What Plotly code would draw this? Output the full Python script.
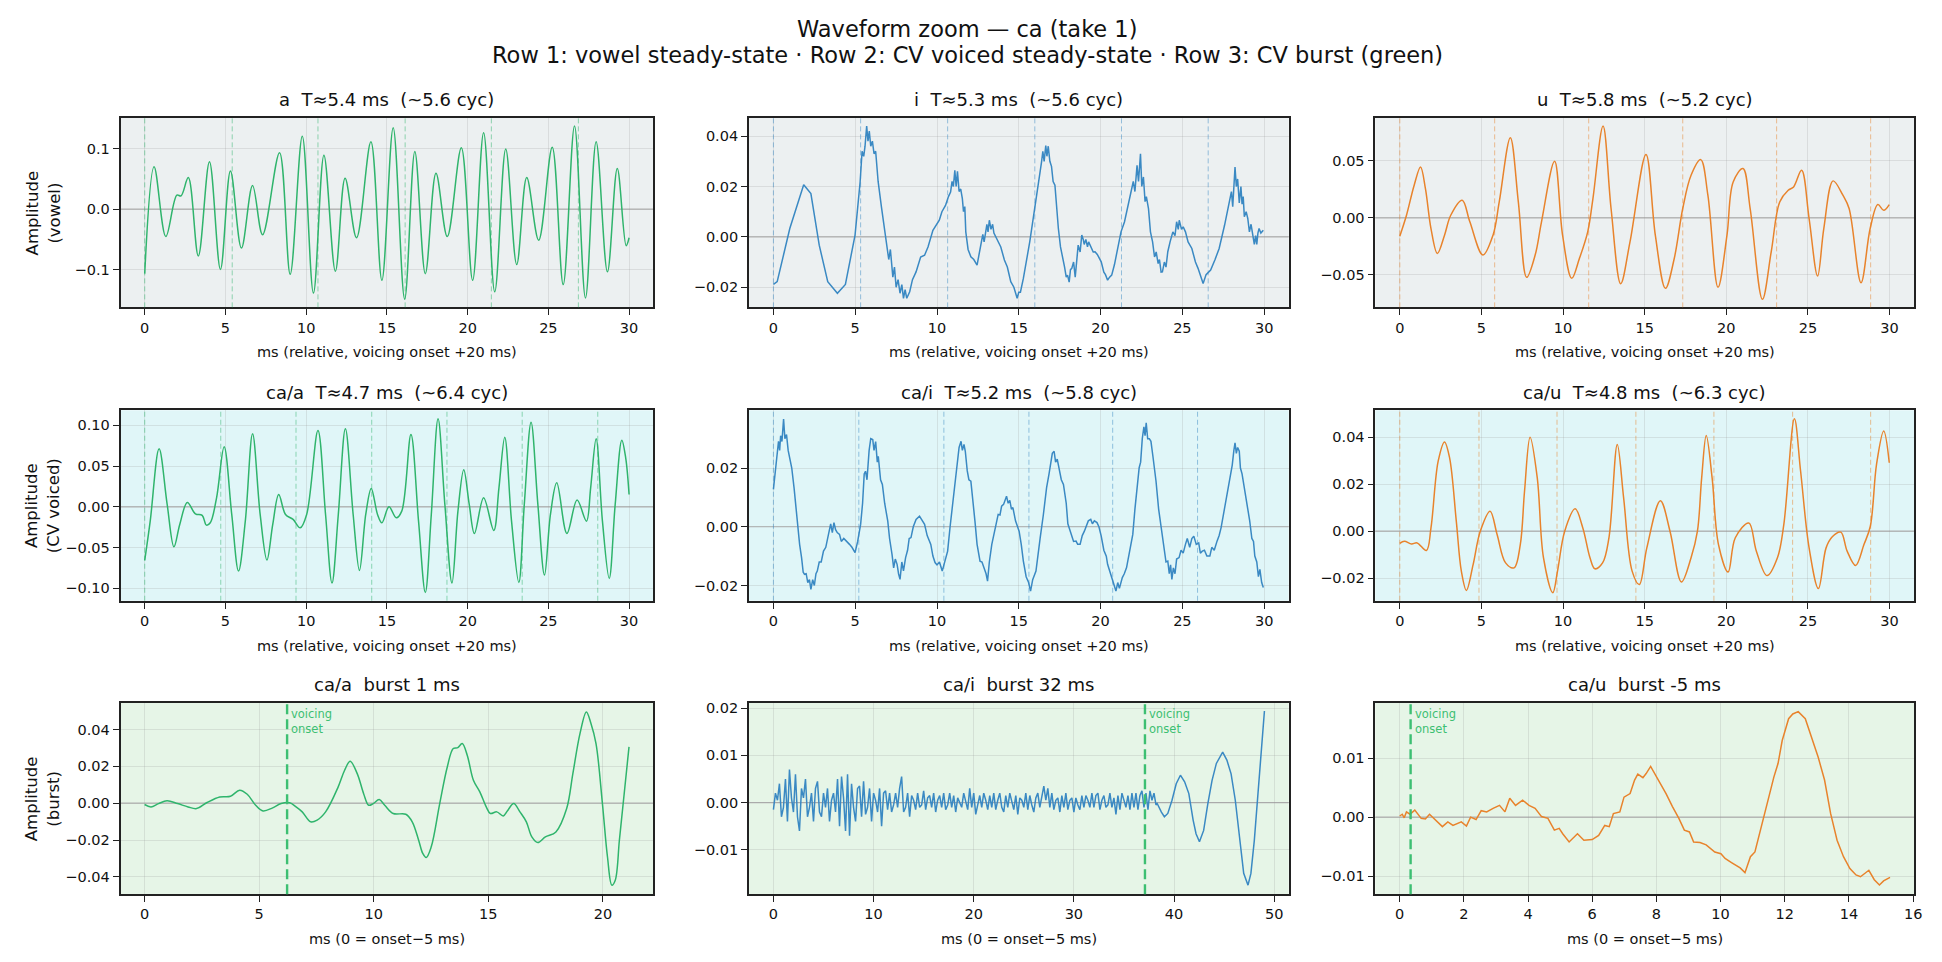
import plotly.graph_objects as go

# ---------------- data ----------------
# Row 1: vowel steady-state
a_t = [0, 0.58, 1.31, 1.99, 2.25, 2.70, 3.32, 4.01, 4.69, 5.31, 5.99, 6.68, 7.30, 8.35, 9.01, 9.76, 10.45, 11.10, 11.81, 12.41, 13.12, 14.01, 14.69, 15.39, 16.10, 16.73, 17.38, 18.04, 18.74, 19.61, 20.31, 20.99, 21.68, 22.36, 23.04, 23.66, 24.40, 25.24, 25.92, 26.62, 27.30, 27.96, 28.66, 29.27, 29.82, 30.0]
a_v = [-0.106, 0.070, -0.045, 0.023, 0.022, 0.052, -0.077, 0.078, -0.099, 0.063, -0.064, 0.039, -0.042, 0.093, -0.107, 0.120, -0.138, 0.089, -0.102, 0.051, -0.047, 0.111, -0.117, 0.134, -0.148, 0.095, -0.106, 0.059, -0.045, 0.101, -0.117, 0.126, -0.136, 0.099, -0.091, 0.052, -0.051, 0.102, -0.124, 0.137, -0.146, 0.111, -0.103, 0.067, -0.060, -0.047]
a_marks = [0, 5.42, 10.73, 16.13, 21.47, 26.86]

i_t = [
    0, 0.23, 1.0, 1.85, 2.29, 2.80, 3.32, 3.91, 4.40, 4.99,
    5.30, 5.42, 5.52, 5.60, 5.70, 5.78, 5.86, 5.95, 6.05, 6.15,
    6.25, 6.40, 6.60, 6.79, 6.95, 7.05, 7.15, 7.30, 7.40, 7.50,
    7.62, 7.74, 7.85, 7.95, 8.05, 8.15, 8.33, 8.50, 8.72, 8.85,
    9.0, 9.24, 9.45, 9.75, 9.95, 10.14, 10.30, 10.52, 10.70, 10.83,
    10.92, 11.0, 11.09, 11.17, 11.25, 11.35, 11.45, 11.55, 11.62, 11.70,
    11.76, 11.90, 12.07, 12.25, 12.45, 12.60, 12.71, 12.80, 12.88, 12.97,
    13.05, 13.12, 13.20, 13.30, 13.40, 13.48, 13.60, 13.74, 13.90, 14.12,
    14.30, 14.51, 14.70, 14.90, 15.0, 15.10, 15.28, 15.67, 16.05, 16.25,
    16.39, 16.47, 16.55, 16.65, 16.72, 16.80, 16.90, 17.0, 17.10, 17.21,
    17.30, 17.42, 17.55, 17.67, 17.80, 17.90, 17.98, 18.08, 18.16, 18.24,
    18.35, 18.45, 18.55, 18.63, 18.75, 18.85, 18.94, 19.0, 19.10, 19.20,
    19.27, 19.40, 19.55, 19.66, 19.80, 20.04, 20.20, 20.30, 20.43, 20.55,
    20.68, 20.85, 21.07, 21.25, 21.46, 21.65, 21.85, 22.0, 22.10, 22.23,
    22.32, 22.44, 22.52, 22.62, 22.72, 22.80, 22.93, 23.05, 23.18, 23.30,
    23.40, 23.52, 23.60, 23.70, 23.78, 23.90, 24.0, 24.11, 24.25, 24.42,
    24.55, 24.65, 24.75, 24.81, 24.95, 25.05, 25.19, 25.35, 25.58, 25.80,
    25.96, 26.15, 26.27, 26.45, 26.73, 27.0, 27.25, 27.58, 27.75, 27.89,
    28.0, 28.08, 28.15, 28.22, 28.30, 28.38, 28.48, 28.58, 28.65, 28.72,
    28.79, 28.90, 29.0, 29.10, 29.20, 29.30, 29.40, 29.48, 29.55, 29.62,
    29.69, 29.80, 29.95,
]
i_v = [
    -0.0189, -0.0178, 0.0033, 0.0207, 0.0172, -0.0033, -0.0178, -0.0224, -0.0189, 0.0007,
    0.0218, 0.034, 0.032, 0.036, 0.044, 0.038, 0.042, 0.036, 0.038, 0.033,
    0.034, 0.022, 0.012, 0.0033, -0.006, -0.009, -0.005, -0.016, -0.012, -0.020,
    -0.017, -0.0224, -0.019, -0.0244, -0.021, -0.0244, -0.0218, -0.017, -0.0139, -0.011,
    -0.008, -0.0073, -0.004, 0.0026, 0.0045, 0.0066, 0.010, 0.0125, 0.016, 0.0178,
    0.022, 0.020, 0.0264, 0.020, 0.026, 0.018, 0.019, 0.0152, 0.010, 0.012,
    0.002, -0.005, -0.0079, -0.009, -0.0112, -0.006, -0.0033, 0.001, -0.002, 0.002,
    0.005, 0.002, 0.0066, 0.003, 0.005, 0.0015, 0.0, -0.002, -0.004, -0.0092,
    -0.012, -0.0178, -0.020, -0.0244, -0.022, -0.022, -0.0165, -0.002, 0.0139, 0.024,
    0.0297, 0.034, 0.030, 0.0363, 0.032, 0.036, 0.030, 0.028, 0.022, 0.0205,
    0.012, 0.0033, -0.004, -0.0073, -0.012, -0.016, -0.0152, -0.018, -0.013, -0.0125,
    -0.010, -0.016, -0.008, -0.0033, -0.006, 0.0007, -0.001, -0.003, -0.001, -0.004,
    -0.002, -0.004, -0.006, -0.0059, -0.007, -0.0099, -0.014, -0.015, -0.0172, -0.016,
    -0.0152, -0.011, -0.0033, 0.002, 0.0059, 0.012, 0.0178, 0.022, 0.018, 0.0284,
    0.022, 0.033, 0.020, 0.0238, 0.014, 0.016, 0.0112, 0.002, -0.002, -0.008,
    -0.006, -0.0106, -0.009, -0.014, -0.0139, -0.010, -0.012, -0.0059, -0.002, 0.002,
    0.0005, 0.006, 0.003, 0.0066, 0.003, 0.004, 0.002, -0.002, -0.0046, -0.010,
    -0.0125, -0.016, -0.0185, -0.015, -0.0132, -0.009, -0.0046, 0.0046, 0.010, 0.0139,
    0.018, 0.012, 0.020, 0.0277, 0.020, 0.023, 0.0135, 0.020, 0.013, 0.016,
    0.008, 0.010, 0.0073, 0.002, 0.005, 0.0, -0.003, 0.0005, -0.003, 0.0015,
    0.0033, 0.0015, 0.0026,
]
i_marks = [0, 5.33, 10.65, 15.98, 21.28, 26.58]

u_t = [0, 0.41, 0.88, 1.27, 1.57, 1.91, 2.30, 2.74, 3.12, 3.82, 4.29, 5.09, 5.71, 6.09, 6.77, 7.26, 7.77, 8.29, 8.68, 9.48, 9.97, 10.53, 11.0, 11.51, 11.83, 12.45, 12.94, 13.53, 14.10, 15.08, 15.65, 16.27, 16.81, 17.33, 17.84, 18.43, 18.87, 19.49, 20.04, 20.42, 21.02, 21.46, 22.21, 22.75, 23.27, 23.79, 24.12, 24.61, 25.07, 25.59, 25.97, 26.54, 27.14, 27.52, 28.25, 28.81, 29.28, 29.64, 29.98]
u_v = [-0.0161, 0.0023, 0.0287, 0.0447, 0.0257, -0.0094, -0.0313, -0.0152, 0.0023, 0.0155, -0.0035, -0.0327, -0.0152, 0.014, 0.0705, 0.014, -0.0523, -0.0327, -0.0035, 0.0497, -0.0152, -0.0532, -0.0357, -0.0123, 0.017, 0.0807, 0.0082, -0.0579, -0.0211, 0.0558, -0.0152, -0.062, -0.0357, 0.0082, 0.0374, 0.0512, 0.0199, -0.0611, -0.0152, 0.0316, 0.0433, 0.0082, -0.0716, -0.0298, 0.014, 0.0243, 0.0272, 0.0418, -0.0006, -0.0512, -0.0094, 0.0325, 0.0199, 0.0082, -0.057, -0.0094, 0.0117, 0.0067, 0.0117]
u_marks = [0, 5.81, 11.57, 17.33, 23.08, 28.84]

# Row 2: CV voiced steady-state
ca_a_t = [0, 0.34, 0.89, 1.39, 1.81, 2.17, 2.64, 3.14, 3.56, 3.82, 4.06, 4.45, 4.92, 5.39, 5.81, 6.23, 6.68, 7.15, 7.57, 7.93, 8.30, 8.72, 9.19, 9.63, 10.03, 10.73, 11.20, 11.60, 11.99, 12.43, 12.91, 13.30, 13.69, 14.03, 14.42, 14.69, 15.13, 15.58, 15.92, 16.49, 16.96, 17.38, 17.75, 18.17, 18.59, 19.03, 19.40, 19.76, 20.10, 20.42, 20.99, 21.62, 21.94, 22.30, 22.72, 23.17, 23.51, 23.93, 24.35, 24.76, 25.13, 25.52, 26.15, 26.78, 27.36, 27.62, 27.96, 28.35, 28.77, 29.14, 29.55, 29.79, 30.0]
ca_a_v = [-0.0658, -0.0176, 0.0711, 0.0029, -0.0491, -0.0217, 0.0053, -0.0086, -0.0106, -0.0225, -0.0196, 0.011, 0.0736, -0.0094, -0.0789, -0.0176, 0.0895, -0.0094, -0.0654, -0.0217, 0.0151, -0.0094, -0.0155, -0.0258, -0.0094, 0.0936, -0.0094, -0.0936, -0.0094, 0.0957, -0.0094, -0.0781, -0.0094, 0.0225, -0.0094, -0.0196, 0.0, -0.0135, -0.0053, 0.0887, -0.0176, -0.1051, -0.0094, 0.1079, 0.0029, -0.0936, -0.0053, 0.0454, 0.0029, -0.0327, 0.011, -0.029, 0.0233, 0.0854, -0.0176, -0.0928, 0.0029, 0.1038, 0.0029, -0.0838, -0.0094, 0.0294, -0.0327, 0.0082, -0.0176, 0.0233, 0.0834, -0.0176, -0.0879, 0.0029, 0.0818, 0.0601, 0.0151]
ca_a_marks = [0, 4.71, 9.37, 14.06, 18.72, 23.38, 28.06]

ca_i_t = [
    0, 0.15, 0.25, 0.31, 0.38, 0.44, 0.52, 0.62, 0.70, 0.80,
    0.90, 1.0, 1.12, 1.26, 1.47, 1.60, 1.72, 1.82, 1.90, 2.0,
    2.10, 2.20, 2.29, 2.40, 2.50, 2.60, 2.68, 2.80, 2.92, 3.06,
    3.20, 3.30, 3.37, 3.50, 3.60, 3.70, 3.80, 3.90, 4.04, 4.15,
    4.30, 4.48, 4.65, 4.80, 4.99, 5.15, 5.33, 5.45, 5.55, 5.63,
    5.72, 5.85, 5.95, 6.07, 6.15, 6.25, 6.35, 6.41, 6.55, 6.66,
    6.80, 6.99, 7.10, 7.25, 7.35, 7.45, 7.56, 7.65, 7.74, 7.85,
    7.95, 8.08, 8.20, 8.30, 8.41, 8.55, 8.72, 8.93, 9.10, 9.24,
    9.40, 9.62, 9.75, 9.88, 10.00, 10.15, 10.32, 10.45, 10.65, 10.80,
    10.99, 11.10, 11.24, 11.35, 11.47, 11.55, 11.65, 11.73, 11.85, 11.95,
    12.07, 12.20, 12.32, 12.45, 12.55, 12.63, 12.75, 12.89, 13.0, 13.09,
    13.20, 13.35, 13.50, 13.62, 13.74, 13.85, 13.95, 14.07, 14.15, 14.25,
    14.35, 14.45, 14.55, 14.64, 14.80, 15.02, 15.15, 15.28, 15.45, 15.60,
    15.72, 15.85, 16.05, 16.20, 16.31, 16.50, 16.70, 16.85, 16.95, 17.05,
    17.16, 17.25, 17.35, 17.47, 17.60, 17.73, 17.90, 18.0, 18.11, 18.25,
    18.35, 18.50, 18.60, 18.75, 18.88, 19.01, 19.15, 19.25, 19.40, 19.50,
    19.62, 19.78, 19.90, 20.04, 20.20, 20.35, 20.43, 20.60, 20.75, 20.94,
    21.05, 21.15, 21.33, 21.45, 21.59, 21.75, 21.97, 22.10, 22.22, 22.36,
    22.45, 22.55, 22.65, 22.72, 22.79, 22.88, 22.98, 23.08, 23.20, 23.39,
    23.55, 23.77, 23.90, 24.0, 24.11, 24.20, 24.28, 24.36, 24.45, 24.55,
    24.65, 24.80, 24.92, 25.05, 25.19, 25.30, 25.45, 25.58, 25.70, 25.85,
    26.0, 26.10, 26.22, 26.35, 26.50, 26.68, 26.80, 26.95, 27.12, 27.25,
    27.37, 27.50, 27.63, 27.80, 27.90, 27.96, 28.05, 28.15, 28.22, 28.30,
    28.38, 28.48, 28.55, 28.65, 28.79, 28.95, 29.12, 29.25, 29.35, 29.43,
    29.55, 29.65, 29.74, 29.85, 29.95,
]
ca_i_v = [
    0.0127, 0.020, 0.026, 0.0291, 0.026, 0.031, 0.029, 0.0367, 0.030, 0.0314,
    0.026, 0.0235, 0.020, 0.0133, -0.0003, -0.006, -0.0105, -0.0155, -0.0162, -0.016,
    -0.019, -0.018, -0.0213, -0.018, -0.020, -0.016, -0.0151, -0.012, -0.012, -0.0083,
    -0.007, -0.004, -0.0032, 0.001, -0.002, 0.0014, -0.001, -0.002, -0.0026, -0.005,
    -0.004, -0.0049, -0.006, -0.007, -0.0088, -0.005, 0.0008, 0.008, 0.018, 0.0189,
    0.016, 0.026, 0.030, 0.0297, 0.026, 0.029, 0.022, 0.024, 0.016, 0.0144,
    0.008, 0.0019, -0.004, -0.0094, -0.014, -0.011, -0.0128, -0.016, -0.0179, -0.012,
    -0.015, -0.0105, -0.008, -0.004, -0.0037, 0.0, 0.0025, 0.0036, 0.002, 0.0008,
    -0.003, -0.006, -0.010, -0.0122, -0.013, -0.012, -0.0151, -0.012, -0.0083, 0.000,
    0.0099, 0.016, 0.0223, 0.027, 0.0291, 0.026, 0.028, 0.0257, 0.019, 0.016,
    0.0155, 0.007, 0.0019, -0.006, -0.010, -0.0117, -0.012, -0.0139, -0.016, -0.0185,
    -0.012, -0.006, -0.002, 0.002, 0.0042, 0.004, 0.007, 0.0076, 0.009, 0.0104,
    0.008, 0.009, 0.006, 0.0065, 0.002, -0.0015, -0.006, -0.0117, -0.017, -0.019,
    -0.0219, -0.018, -0.0151, -0.008, -0.0037, 0.004, 0.0133, 0.018, 0.022, 0.025,
    0.0257, 0.022, 0.023, 0.0201, 0.016, 0.0144, 0.008, 0.001, -0.0009, -0.003,
    -0.005, -0.0049, -0.006, -0.006, -0.003, -0.0015, 0.001, 0.002, 0.0025, 0.001,
    0.002, 0.0014, 0.0, -0.0032, -0.008, -0.010, -0.0128, -0.016, -0.018, -0.0219,
    -0.019, -0.021, -0.0173, -0.016, -0.0139, -0.009, -0.0026, 0.006, 0.012, 0.0201,
    0.022, 0.030, 0.034, 0.031, 0.0354, 0.030, 0.030, 0.0291, 0.024, 0.0155,
    0.006, -0.0026, -0.008, -0.012, -0.0117, -0.016, -0.013, -0.0179, -0.014, -0.016,
    -0.011, -0.0105, -0.008, -0.009, -0.006, -0.004, -0.007, -0.004, -0.0032, -0.006,
    -0.0055, -0.009, -0.0083, -0.008, -0.010, -0.01, -0.007, -0.008, -0.0049, -0.003,
    -0.0003, 0.004, 0.0076, 0.013, 0.016, 0.0189, 0.021, 0.026, 0.0286, 0.025,
    0.027, 0.0257, 0.020, 0.018, 0.0133, 0.008, 0.0019, -0.004, -0.005, -0.01,
    -0.012, -0.017, -0.0145, -0.019, -0.0207,
]
ca_i_marks = [0, 5.22, 10.42, 15.62, 20.74, 25.93]

ca_u_t = [0, 0.28, 0.72, 1.06, 1.63, 1.91, 2.35, 2.74, 3.05, 3.46, 3.77, 4.08, 4.49, 4.93, 5.53, 5.96, 6.48, 7.0, 7.38, 7.64, 7.98, 8.42, 8.80, 9.37, 9.66, 10.10, 10.74, 11.21, 11.65, 11.95, 12.42, 12.81, 13.32, 13.71, 14.23, 14.67, 15.13, 15.96, 16.55, 17.25, 17.84, 18.23, 18.49, 18.77, 19.13, 19.52, 20.11, 20.55, 21.38, 21.84, 22.49, 23.13, 23.52, 24.17, 24.55, 25.07, 25.64, 26.11, 26.49, 27.01, 27.40, 27.92, 28.43, 28.82, 29.20, 29.64, 29.98]
ca_u_v = [-0.0052, -0.0043, -0.0054, -0.005, -0.0082, 0.0014, 0.0298, 0.038, 0.0312, 0.0043, -0.017, -0.0252, -0.0142, 0.0, 0.0085, -0.0014, -0.0135, -0.0156, -0.0057, 0.017, 0.04, 0.0227, -0.0113, -0.0262, -0.017, 0.0, 0.0095, 0.0014, -0.0113, -0.016, -0.0135, -0.0028, 0.0369, 0.0142, -0.017, -0.0227, -0.0071, 0.013, 0.0, -0.0216, -0.0113, 0.0, 0.0227, 0.0407, 0.0227, -0.0057, -0.0174, -0.0028, 0.0035, -0.0085, -0.0189, -0.0113, 0.0028, 0.0478, 0.0255, -0.0071, -0.0244, -0.0071, -0.0024, -0.0004, -0.0085, -0.0146, -0.0057, 0.0021, 0.0284, 0.0426, 0.0291]
ca_u_marks = [0, 4.85, 9.63, 14.46, 19.24, 24.06, 28.84]

# Row 3: CV burst
burst_a_t = [0, 0.28, 0.61, 0.98, 1.44, 1.90, 2.27, 2.73, 3.28, 3.75, 4.15, 4.48, 4.85, 5.17, 5.59, 5.96, 6.33, 6.61, 6.88, 7.25, 7.53, 7.90, 8.45, 8.73, 8.97, 9.28, 9.56, 9.78, 9.98, 10.24, 10.48, 10.85, 11.40, 11.68, 11.96, 12.14, 12.29, 12.51, 12.88, 13.21, 13.47, 13.67, 13.86, 14.08, 14.35, 14.63, 14.91, 15.09, 15.37, 15.65, 15.83, 16.11, 16.38, 16.66, 16.90, 17.16, 17.49, 17.95, 18.42, 18.69, 19.00, 19.28, 19.48, 19.70, 19.98, 20.20, 20.39, 20.54, 20.72, 20.90, 21.14]
burst_a_v = [-0.0007, -0.002, -0.0002, 0.0013, -0.0002, -0.002, -0.0029, 0.0004, 0.0034, 0.0038, 0.0071, 0.0049, -0.0011, -0.0042, -0.0025, -0.0002, 0.0002, -0.002, -0.0047, -0.0101, -0.0092, -0.0047, 0.0089, 0.0179, 0.0228, 0.0161, 0.0052, -0.0011, -0.0002, 0.002, -0.0011, -0.0056, -0.006, -0.0101, -0.0201, -0.0273, -0.0295, -0.0237, -0.0002, 0.0197, 0.0297, 0.0302, 0.0324, 0.0261, 0.0125, 0.0062, -0.002, -0.0056, -0.0047, -0.0069, -0.0042, -0.0002, -0.0047, -0.0101, -0.0183, -0.0214, -0.0183, -0.0156, -0.0029, 0.0161, 0.0378, 0.0496, 0.0433, 0.0324, -0.0002, -0.0291, -0.0445, -0.0418, -0.0201, 0.0016, 0.0306]

burst_i_noise_step = 0.2
burst_i_noise_v = [
    -0.0015, 0.002, 0.0005, 0.004, -0.003, -0.001, 0.005, -0.004, 0.007, 0.001,
    -0.002, 0.006, -0.003, -0.006, 0.003, 0.001, 0.005, -0.003, -0.001, 0.002,
    -0.004, 0.003, 0.0045, -0.002, -0.003, 0.002, -0.001, 0.003, -0.004, 0.0005,
    0.002, -0.002, 0.005, -0.005, 0.0055, 0.001, -0.006, 0.006, -0.007, 0.004,
    -0.001, -0.004, 0.003, 0.0035, -0.003, 0.0045, -0.0025, -0.001, 0.003, -0.004,
    0.002, 0.0005, -0.002, 0.003, -0.005, 0.002, 0.0025, -0.0015, 0.002, -0.002,
    -0.0005, 0.002, -0.001, 0.003, 0.0055, -0.002, -0.001, 0.002, -0.003, 0.0015,
    0.0005, -0.0015, 0.002, -0.001, -0.0005, 0.0025, -0.0015, 0.001, 0.0015, -0.001,
    0.002, -0.002, 0.0005, 0.0015, -0.001, 0.002, -0.0015, -0.0005, 0.002, -0.001,
    0.0015, -0.002, 0.001, 0.0, -0.001, 0.002, 0.0005, -0.0015, 0.003, -0.001,
    0.002, -0.0025, -0.0005, 0.0015, -0.001, 0.002, 0.0005, -0.0015, 0.0015, -0.001,
    0.002, -0.0015, 0.0005, 0.002, -0.001, -0.002, 0.0015, -0.001, 0.002, 0.0005,
    -0.0015, 0.0015, -0.0025, 0.001, 0.0005, -0.001, 0.002, -0.0015, 0.0015, -0.0005,
    -0.002, 0.001, 0.002, -0.001, 0.0015, 0.0035, 0.0005, 0.003, -0.001, 0.002,
    -0.0015, 0.0005, 0.001, -0.002, 0.0015, -0.001, 0.002, -0.0015, 0.0005, 0.001,
    -0.002, 0.001, -0.0005, -0.0015, 0.0015, -0.001, 0.0015, 0.0005, -0.001, 0.002,
    -0.001, 0.0015, 0.002, -0.0015, 0.0005, 0.0015, -0.001, -0.0005, 0.002, -0.001,
    0.001, -0.0025, 0.0015, -0.0015, 0.002, 0.0005, -0.001, 0.0015, -0.0015, 0.002,
    -0.001, 0.002, -0.0015, 0.0015, 0.0025, -0.001, 0.002, -0.0015, 0.0025, 0.0005,
    0.002, -0.0005,
]
burst_i_tail_t = [38.32, 38.74, 39.04, 39.38, 39.80, 40.22, 40.64, 41.06, 41.48, 41.91, 42.20, 42.54, 42.96, 43.38, 43.80, 44.23, 44.86, 45.28, 45.70, 46.12, 46.54, 46.96, 47.39, 47.68, 48.02, 48.44, 48.78, 49.03]
burst_i_tail_v = [-0.0002, -0.002, -0.003, -0.0023, 0.0005, 0.004, 0.0058, 0.0044, 0.0019, -0.0037, -0.0066, -0.0083, -0.0059, -0.0002, 0.0047, 0.0083, 0.0107, 0.009, 0.0061, 0.0005, -0.008, -0.015, -0.0175, -0.015, -0.008, 0.0026, 0.0118, 0.0194]

burst_u_t = [0, 0.08, 0.14, 0.21, 0.32, 0.47, 0.67, 0.80, 0.93, 1.11, 1.33, 1.50, 1.66, 1.92, 2.08, 2.21, 2.38, 2.54, 2.71, 2.91, 3.11, 3.28, 3.43, 3.61, 3.83, 4.03, 4.22, 4.42, 4.62, 4.82, 4.97, 5.08, 5.28, 5.54, 5.74, 6.0, 6.20, 6.39, 6.53, 6.66, 6.86, 6.99, 7.18, 7.32, 7.42, 7.58, 7.68, 7.82, 7.95, 8.11, 8.30, 8.50, 8.70, 8.87, 9.03, 9.16, 9.36, 9.55, 9.82, 10.01, 10.14, 10.34, 10.61, 10.76, 10.93, 11.07, 11.26, 11.39, 11.53, 11.66, 11.79, 11.92, 12.12, 12.25, 12.42, 12.64, 12.84, 13.04, 13.24, 13.43, 13.63, 13.83, 14.03, 14.22, 14.36, 14.49, 14.62, 14.79, 14.95, 15.08, 15.28]
burst_u_v = [0.0002, 0.0005, -0.0001, 0.0009, 0.0005, 0.0012, -0.0002, -0.0003, 0.0005, -0.0005, -0.0016, -0.0008, -0.0014, -0.0008, -0.0015, 0.0, -0.0004, 0.0011, 0.0009, 0.0015, 0.002, 0.0009, 0.0032, 0.002, 0.0029, 0.002, 0.0015, 0.0001, -0.0002, -0.0022, -0.0019, -0.0028, -0.0042, -0.0028, -0.0039, -0.0038, -0.0031, -0.0014, -0.0016, 0.0006, 0.0009, 0.0034, 0.004, 0.0063, 0.0073, 0.0067, 0.0074, 0.0086, 0.0074, 0.0057, 0.004, 0.0018, -0.0002, -0.0022, -0.0025, -0.0042, -0.0043, -0.0047, -0.0059, -0.0062, -0.007, -0.0077, -0.0086, -0.0094, -0.0067, -0.0059, -0.0019, 0.0006, 0.004, 0.0068, 0.0091, 0.013, 0.0167, 0.0175, 0.0179, 0.0167, 0.0136, 0.0102, 0.0063, 0.0006, -0.0039, -0.0067, -0.0087, -0.0098, -0.0101, -0.0095, -0.009, -0.0106, -0.0115, -0.0108, -0.0102]

voicing_onset = [6.22, 37.1, 0.34]

titles = ["a  T≈5.4 ms  (~5.6 cyc)", "i  T≈5.3 ms  (~5.6 cyc)", "u  T≈5.8 ms  (~5.2 cyc)",
          "ca/a  T≈4.7 ms  (~6.4 cyc)", "ca/i  T≈5.2 ms  (~5.8 cyc)", "ca/u  T≈4.8 ms  (~6.3 cyc)",
          "ca/a  burst 1 ms", "ca/i  burst 32 ms", "ca/u  burst -5 ms"]
row_ylabels = ["Amplitude<br>(vowel)", "Amplitude<br>(CV voiced)", "Amplitude<br>(burst)"]
xlabel_steady = "ms (relative, voicing onset +20 ms)"
xlabel_burst = "ms (0 = onset−5 ms)"

# tick values
yticks = [[-0.1, 0.0, 0.1], [-0.02, 0.0, 0.02, 0.04], [-0.05, 0.0, 0.05],
          [-0.10, -0.05, 0.0, 0.05, 0.10], [-0.02, 0.0, 0.02], [-0.02, 0.0, 0.02, 0.04],
          [-0.04, -0.02, 0.0, 0.02, 0.04], [-0.01, 0.0, 0.01, 0.02], [-0.01, 0.0, 0.01]]
ytickfmt = [".1f", ".2f", ".2f", ".2f", ".2f", ".2f", ".2f", ".2f", ".2f"]
xticks_steady = [0, 5, 10, 15, 20, 25, 30]
xticks = [xticks_steady] * 6 + [[0, 5, 10, 15, 20], [0, 10, 20, 30, 40, 50],
                                [0, 2, 4, 6, 8, 10, 12, 14, 16]]

# ---------------- styling / layout ----------------
W, H = 1942, 962
GREEN, BLUE, ORANGE = "#2fb46c", "#3a89c3", "#e8832c"
ONSET_GREEN = "#3dbf72"
BG = ["#ecf0f1", "#e0f6f8", "#e6f5e7"]
col_px = [(121, 656), (752, 1294), (1381, 1922)]
row_px = [(116, 306), (409, 600), (702, 894)]
FONT = "DejaVu Sans"

burst_i_t = [k * burst_i_noise_step for k in range(len(burst_i_noise_v))] + burst_i_tail_t
burst_i_v = burst_i_noise_v + burst_i_tail_v

panels = [
    dict(t=a_t, v=a_v, c=GREEN, shape="spline", marks=a_marks, xr=[-1.5, 31.5], yr=[-0.1615, 0.1505]),
    dict(t=i_t, v=i_v, c=BLUE, shape="linear", marks=i_marks, xr=[-1.5, 31.5], yr=[-0.0280, 0.0473]),
    dict(t=u_t, v=u_v, c=ORANGE, shape="spline", marks=u_marks, xr=[-1.5, 31.5], yr=[-0.0787, 0.0880]),
    dict(t=ca_a_t, v=ca_a_v, c=GREEN, shape="spline", marks=ca_a_marks, xr=[-1.5, 31.5], yr=[-0.1153, 0.1186]),
    dict(t=ca_i_t, v=ca_i_v, c=BLUE, shape="linear", marks=ca_i_marks, xr=[-1.5, 31.5], yr=[-0.0252, 0.0397]),
    dict(t=ca_u_t, v=ca_u_v, c=ORANGE, shape="spline", marks=ca_u_marks, xr=[-1.5, 31.5], yr=[-0.0296, 0.0515]),
    dict(t=burst_a_t, v=burst_a_v, c=GREEN, shape="spline", marks=None, xr=[-1.05, 22.2], yr=[-0.0494, 0.0547]),
    dict(t=burst_i_t, v=burst_i_v, c=BLUE, shape="linear", marks=None, xr=[-2.45, 51.45], yr=[-0.0194, 0.0212]),
    dict(t=burst_u_t, v=burst_u_v, c=ORANGE, shape="linear", marks=None, xr=[-0.76, 16.03], yr=[-0.01305, 0.01944]),
]


def rgba(hexcol, a):
    h = hexcol.lstrip("#")
    r, g, b = int(h[0:2], 16), int(h[2:4], 16), int(h[4:6], 16)
    return f"rgba({r},{g},{b},{a})"


fig = go.Figure()
shapes, annotations = [], []
layout_axes = {}

for idx, p in enumerate(panels):
    assert len(p["t"]) == len(p["v"]), (idx, len(p["t"]), len(p["v"]))
    r, c = divmod(idx, 3)
    n = idx + 1
    xs = "" if n == 1 else str(n)
    xname, yname = "x" + xs, "y" + xs
    xl, xr_ = col_px[c]
    yt, yb = row_px[r]
    xdom = [xl / W, xr_ / W]
    ydom = [1 - yb / H, 1 - yt / H]

    common = dict(showline=True, mirror=True, linecolor="#222222", linewidth=1.6,
                  ticks="outside", ticklen=6, tickwidth=1.4, tickcolor="#222222",
                  showgrid=True, gridcolor="rgba(150,150,150,0.22)", gridwidth=1.2,
                  zeroline=False, tickfont=dict(family=FONT, size=14.5, color="#111111"),
                  fixedrange=True)
    layout_axes["xaxis" + xs] = dict(domain=xdom, anchor=yname, range=p["xr"],
                                     tickvals=xticks[idx], **common)
    layout_axes["yaxis" + xs] = dict(domain=ydom, anchor=xname, range=p["yr"],
                                     tickvals=yticks[idx], tickformat=ytickfmt[idx], **common)

    # panel background
    shapes.append(dict(type="rect", xref=xname + " domain", yref=yname + " domain",
                       x0=0, x1=1, y0=0, y1=1, fillcolor=BG[r], line=dict(width=0), layer="below"))
    # zero line
    shapes.append(dict(type="line", xref=xname + " domain", yref=yname, x0=0, x1=1, y0=0, y1=0,
                       line=dict(color="#b0b0b0", width=1.2), layer="below"))
    # period markers
    if p["marks"]:
        for m in p["marks"]:
            shapes.append(dict(type="line", xref=xname, yref=yname + " domain", x0=m, x1=m, y0=0, y1=1,
                               line=dict(color=rgba(p["c"], 0.5), width=1, dash="5px,3px")))
    else:
        on = voicing_onset[c]
        shapes.append(dict(type="line", xref=xname, yref=yname + " domain", x0=on, x1=on, y0=0, y1=1,
                           line=dict(color=ONSET_GREEN, width=2.4, dash="10px,5px")))
        annotations.append(dict(text="voicing<br>onset", xref=xname, yref=yname + " domain",
                                x=on, y=1, xanchor="left", yanchor="top", xshift=2, yshift=-2,
                                align="left", showarrow=False,
                                font=dict(family=FONT, size=11.5, color=ONSET_GREEN)))

    fig.add_trace(go.Scatter(x=p["t"], y=p["v"], mode="lines", xaxis=xname, yaxis=yname,
                             line=dict(color=p["c"], width=1.5, shape=p["shape"]),
                             showlegend=False, hoverinfo="skip"))

    # subplot title
    annotations.append(dict(text=titles[idx], xref="paper", yref="paper",
                            x=(xdom[0] + xdom[1]) / 2, y=ydom[1], xanchor="center", yanchor="middle",
                            yshift=18, showarrow=False, font=dict(family=FONT, size=18, color="#111111")))
    # x-axis label
    annotations.append(dict(text=xlabel_steady if r < 2 else xlabel_burst, xref="paper", yref="paper",
                            x=(xdom[0] + xdom[1]) / 2, y=ydom[0], xanchor="center", yanchor="middle",
                            yshift=-45, showarrow=False, font=dict(family=FONT, size=14.5, color="#111111")))

# row y-labels
for r in range(3):
    yt, yb = row_px[r]
    annotations.append(dict(text=row_ylabels[r], xref="paper", yref="paper",
                            x=43 / W, y=1 - (yt + yb) / 2 / H, xanchor="center", yanchor="middle",
                            textangle=-90, showarrow=False,
                            font=dict(family=FONT, size=16.5, color="#111111")))

# suptitle
annotations.append(dict(text="Waveform zoom — ca (take 1)", xref="paper", yref="paper",
                        x=0.5, y=1 - 27 / H, xanchor="center", yanchor="middle", showarrow=False,
                        font=dict(family=FONT, size=22.5, color="#111111")))
annotations.append(dict(text="Row 1: vowel steady-state · Row 2: CV voiced steady-state · Row 3: CV burst (green)",
                        xref="paper", yref="paper", x=0.5, y=1 - 53 / H, xanchor="center", yanchor="middle",
                        showarrow=False, font=dict(family=FONT, size=22.5, color="#111111")))

fig.update_layout(width=W, height=H, margin=dict(l=0, r=0, t=0, b=0),
                  paper_bgcolor="white", plot_bgcolor="rgba(0,0,0,0)",
                  font=dict(family=FONT, color="#111111"),
                  shapes=shapes, annotations=annotations, **layout_axes)

fig.write_html("out.html", post_script="document.body.style.margin='0';")
